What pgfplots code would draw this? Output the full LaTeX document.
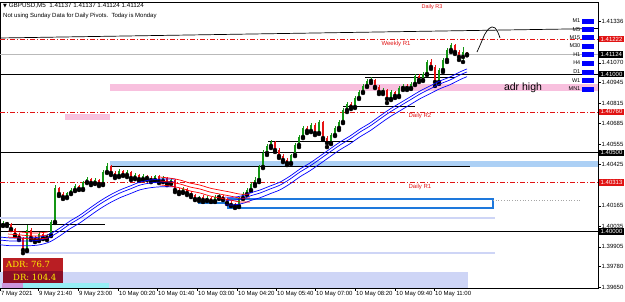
\documentclass[border=0pt]{standalone}
\usepackage{pgfplots}
\pgfplotsset{compat=1.18}
\usepackage{pgfplotstable}
\usepackage{fontspec}
\setmainfont{Liberation Sans}
\newfontfamily\dejavu{DejaVu Sans}
\newfontfamily\dvserif{DejaVu Serif}

\definecolor{mtgreen}{RGB}{20,150,20}
\definecolor{mtred}{RGB}{230,20,20}
\definecolor{ribblue}{RGB}{0,0,255}
\definecolor{ribred}{RGB}{255,0,0}
\definecolor{pivred}{RGB}{225,20,20}
\definecolor{pinkband}{RGB}{248,192,222}
\definecolor{blueband}{RGB}{172,208,245}
\definecolor{lav}{RGB}{206,213,246}
\definecolor{rectblue}{RGB}{30,120,220}
\definecolor{cyanbar}{RGB}{150,238,245}
\definecolor{purplebar}{RGB}{205,150,220}
\definecolor{adrtop}{RGB}{185,30,35}
\definecolor{adrbot}{RGB}{140,15,38}

\pgfplotstableread{
x o h l c
3 1.40043 1.40068 1.40037 1.40056
7 1.40056 1.40062 1.40037 1.40049
11 1.40049 1.40056 1.40011 1.40018
15 1.40018 1.40024 1.39973 1.39980
19 1.39980 1.39992 1.39948 1.39961
23 1.39961 1.39967 1.39865 1.39884
27 1.39884 1.40043 1.39878 1.40011
31 1.40011 1.40024 1.39948 1.39961
35 1.39961 1.39973 1.39935 1.39948
39 1.39948 1.39999 1.39942 1.39986
43 1.39986 1.39992 1.39954 1.39961
47 1.39961 1.39986 1.39948 1.39980
51 1.39980 1.40075 1.39973 1.40062
55 1.40062 1.40296 1.40056 1.40277
59 1.40277 1.40284 1.40227 1.40239
63 1.40239 1.40252 1.40208 1.40220
67 1.40220 1.40252 1.40214 1.40246
71 1.40246 1.40277 1.40239 1.40265
75 1.40265 1.40303 1.40258 1.40290
79 1.40290 1.40296 1.40265 1.40271
83 1.40271 1.40322 1.40265 1.40315
87 1.40315 1.40347 1.40309 1.40334
91 1.40334 1.40341 1.40296 1.40309
95 1.40309 1.40341 1.40303 1.40328
99 1.40328 1.40334 1.40290 1.40303
103 1.40303 1.40392 1.40296 1.40379
107 1.40379 1.40436 1.40373 1.40417
111 1.40417 1.40423 1.40360 1.40373
115 1.40373 1.40385 1.40341 1.40354
119 1.40354 1.40398 1.40347 1.40385
123 1.40385 1.40392 1.40354 1.40360
127 1.40360 1.40392 1.40347 1.40379
131 1.40379 1.40385 1.40328 1.40341
135 1.40341 1.40373 1.40334 1.40360
139 1.40360 1.40366 1.40322 1.40334
143 1.40334 1.40366 1.40328 1.40354
147 1.40354 1.40360 1.40328 1.40341
151 1.40341 1.40354 1.40315 1.40328
155 1.40328 1.40360 1.40322 1.40354
159 1.40354 1.40360 1.40309 1.40322
163 1.40322 1.40354 1.40315 1.40341
167 1.40341 1.40347 1.40296 1.40309
171 1.40309 1.40341 1.40303 1.40328
175 1.40328 1.40334 1.40252 1.40265
179 1.40265 1.40277 1.40239 1.40252
183 1.40252 1.40284 1.40246 1.40271
187 1.40271 1.40277 1.40233 1.40246
191 1.40246 1.40258 1.40220 1.40233
195 1.40233 1.40239 1.40201 1.40208
199 1.40208 1.40227 1.40195 1.40220
203 1.40220 1.40233 1.40189 1.40201
207 1.40201 1.40227 1.40195 1.40214
211 1.40214 1.40220 1.40189 1.40195
215 1.40195 1.40233 1.40189 1.40220
219 1.40220 1.40239 1.40208 1.40227
223 1.40227 1.40233 1.40201 1.40208
227 1.40208 1.40214 1.40176 1.40182
231 1.40182 1.40195 1.40163 1.40170
235 1.40170 1.40182 1.40151 1.40163
239 1.40163 1.40220 1.40157 1.40214
243 1.40214 1.40252 1.40208 1.40239
247 1.40239 1.40277 1.40233 1.40265
251 1.40265 1.40315 1.40258 1.40303
255 1.40303 1.40347 1.40290 1.40328
259 1.40328 1.40423 1.40315 1.40411
263 1.40411 1.40518 1.40404 1.40499
267 1.40499 1.40556 1.40487 1.40544
271 1.40544 1.40582 1.40531 1.40569
275 1.40569 1.40575 1.40506 1.40518
279 1.40518 1.40531 1.40468 1.40480
283 1.40480 1.40493 1.40442 1.40455
287 1.40455 1.40468 1.40423 1.40436
291 1.40436 1.40493 1.40430 1.40487
295 1.40487 1.40563 1.40480 1.40550
299 1.40550 1.40613 1.40537 1.40601
303 1.40601 1.40670 1.40594 1.40658
307 1.40658 1.40670 1.40626 1.40639
311 1.40639 1.40689 1.40632 1.40677
315 1.40677 1.40689 1.40613 1.40626
319 1.40626 1.40708 1.40620 1.40696
323 1.40696 1.40702 1.40582 1.40594
327 1.40594 1.40607 1.40537 1.40563
331 1.40563 1.40626 1.40556 1.40613
335 1.40613 1.40670 1.40607 1.40658
339 1.40658 1.40708 1.40645 1.40696
343 1.40696 1.40785 1.40689 1.40772
347 1.40772 1.40823 1.40759 1.40810
351 1.40810 1.40823 1.40778 1.40791
355 1.40791 1.40861 1.40785 1.40848
359 1.40848 1.40899 1.40842 1.40886
363 1.40886 1.40937 1.40880 1.40924
367 1.40924 1.40968 1.40918 1.40956
371 1.40956 1.40981 1.40943 1.40962
375 1.40962 1.40968 1.40911 1.40918
379 1.40918 1.40930 1.40873 1.40886
383 1.40886 1.40911 1.40873 1.40899
387 1.40899 1.40905 1.40816 1.40842
391 1.40842 1.40899 1.40835 1.40886
395 1.40886 1.40892 1.40848 1.40861
399 1.40861 1.40924 1.40854 1.40911
403 1.40911 1.40937 1.40899 1.40924
407 1.40924 1.40937 1.40899 1.40911
411 1.40911 1.40949 1.40905 1.40937
415 1.40937 1.41000 1.40930 1.40987
419 1.40987 1.41000 1.40949 1.40962
423 1.40962 1.41013 1.40956 1.41000
427 1.41000 1.41089 1.40994 1.41076
431 1.41076 1.41095 1.41032 1.41044
435 1.41044 1.41057 1.40924 1.40949
439 1.40949 1.41038 1.40937 1.41025
443 1.41025 1.41101 1.41013 1.41089
447 1.41089 1.41165 1.41076 1.41152
451 1.41152 1.41196 1.41139 1.41184
455 1.41184 1.41190 1.41127 1.41139
459 1.41139 1.41152 1.41089 1.41108
463 1.41108 1.41171 1.41076 1.41137
467 1.41137 1.41140 1.41118 1.41124
}\candles

\pgfplotstableread{
x m u d
0 1.39948 1.39967 1.39918
10 1.39942 1.39961 1.39912
20 1.39942 1.39961 1.39912
30 1.39942 1.39961 1.39912
40 1.39948 1.39967 1.39918
50 1.39967 1.39986 1.39937
60 1.40005 1.40024 1.39975
70 1.40049 1.40068 1.40019
80 1.40087 1.40106 1.40057
90 1.40132 1.40151 1.40102
100 1.40176 1.40195 1.40146
110 1.40214 1.40233 1.40184
120 1.40246 1.40265 1.40216
130 1.40271 1.40290 1.40241
140 1.40296 1.40315 1.40266
150 1.40309 1.40328 1.40279
160 1.40315 1.40334 1.40285
175 1.40315 1.40334 1.40285
}\blueA

\pgfplotstableread{
x m u d
225 1.40201 1.40220 1.40171
235 1.40201 1.40220 1.40171
245 1.40214 1.40233 1.40184
250 1.40227 1.40246 1.40197
260 1.40246 1.40265 1.40216
270 1.40271 1.40290 1.40241
280 1.40296 1.40315 1.40266
290 1.40334 1.40353 1.40304
300 1.40379 1.40398 1.40349
310 1.40417 1.40436 1.40387
320 1.40461 1.40480 1.40431
330 1.40506 1.40525 1.40476
340 1.40550 1.40569 1.40520
350 1.40588 1.40607 1.40558
360 1.40632 1.40651 1.40602
370 1.40670 1.40689 1.40640
380 1.40715 1.40734 1.40685
390 1.40759 1.40778 1.40729
400 1.40797 1.40816 1.40767
410 1.40835 1.40854 1.40805
420 1.40873 1.40892 1.40843
430 1.40905 1.40924 1.40875
440 1.40937 1.40956 1.40907
450 1.40962 1.40981 1.40932
460 1.40994 1.41013 1.40964
467 1.41013 1.41032 1.40983
}\blueB

\pgfplotstableread{
x m u d
160 1.40322 1.40347 1.40297
170 1.40315 1.40340 1.40290
180 1.40303 1.40328 1.40278
190 1.40284 1.40309 1.40259
200 1.40271 1.40296 1.40246
210 1.40252 1.40277 1.40227
220 1.40239 1.40264 1.40214
230 1.40227 1.40252 1.40202
240 1.40214 1.40239 1.40189
250 1.40214 1.40239 1.40189
}\redA

\pgfplotstableread{
x m u d
8 1.39986 1.40005 1.39967
20 1.39980 1.39999 1.39961
35 1.39973 1.39992 1.39954
48 1.39980 1.39999 1.39961
}\redB

\tikzset{pricebox/.style={anchor=west, xshift=1pt, inner xsep=1.5pt, inner ysep=1.2pt, text=white, font=\fontsize{6}{6}\selectfont}}
\pgfplotsset{ribbon/.style={line width=0.7pt, smooth}}

\begin{document}
\begin{tikzpicture}
\begin{axis}[
  at={(0pt,0pt)}, anchor=south west,
  scale only axis, width=598pt, height=286pt,
  xmin=0, xmax=598, ymin=1.39644, ymax=1.41456,
  clip mode=individual,
  axis line style={black, line width=0.6pt},
  tick align=outside, major tick length=2.5pt,
  tick style={black, line width=0.5pt},
  xtick pos=bottom, ytick pos=right, yticklabel pos=right,
  scaled y ticks=false, scaled x ticks=false,
  xtick={0,38,78,118,157,197,237,276,315,355,395,434},
  xticklabels={7 May 2021,9 May 21:40,9 May 23:00,10 May 00:20,10 May 01:40,10 May 03:00,10 May 04:20,10 May 05:40,10 May 07:00,10 May 08:20,10 May 09:40,10 May 11:00},
  ytick={1.39650,1.39780,1.39905,1.40035,1.40165,1.40425,1.40555,1.40685,1.40815,1.40945,1.41070,1.41336},
  yticklabels={1.39650,1.39780,1.39905,1.40035,1.40165,1.40425,1.40555,1.40685,1.40815,1.40945,1.41070,1.41336},
  ticklabel style={font=\fontsize{6}{7}\selectfont, text=black},
  xticklabel style={anchor=north west, inner xsep=1pt, inner ysep=1pt},
  yticklabel style={anchor=west, inner xsep=1pt},
]
% background objects
\addplot[draw=none, fill=lav] coordinates {(0,1.39644) (468,1.39644) (468,1.39745) (0,1.39745)} -- cycle;
\addplot[draw=none, fill=cyanbar] coordinates {(23,1.39644) (109,1.39644) (109,1.39676) (23,1.39676)} -- cycle;
\addplot[draw=none, fill=purplebar] coordinates {(2,1.39644) (23,1.39644) (23,1.39676) (2,1.39676)} -- cycle;
\addplot[draw=none, fill=pinkband] coordinates {(110,1.40892) (598,1.40892) (598,1.40937) (110,1.40937)} -- cycle;
\addplot[draw=none, fill=pinkband] coordinates {(65,1.40708) (110,1.40708) (110,1.40746) (65,1.40746)} -- cycle;
\addplot[draw=none, fill=blueband] coordinates {(110,1.40411) (598,1.40411) (598,1.40449) (110,1.40449)} -- cycle;
\addplot[lav, line width=2.5pt] coordinates {(0,1.40087) (495,1.40087)};
\addplot[lav, line width=1.3pt] coordinates {(25,1.39865) (495,1.39865)};
\addplot[rectblue, line width=1.2pt] coordinates {(228,1.40208) (493,1.40208) (493,1.40151) (228,1.40151)} -- cycle;
\addplot[rectblue, line width=1.5pt] coordinates {(198,1.40182) (228,1.40182)};
\addplot[gray!70, dotted, line width=0.7pt] coordinates {(493,1.40201) (580,1.40201)};
% pivots
\addplot[pivred, line width=0.6pt, dash pattern=on 5pt off 2pt on 1pt off 2pt] coordinates {(0,1.41222) (598,1.41222)};
\addplot[pivred, line width=0.6pt, dash pattern=on 5pt off 2pt on 1pt off 2pt] coordinates {(0,1.40760) (598,1.40760)};
\addplot[pivred, line width=0.6pt, dash pattern=on 5pt off 2pt on 1pt off 2pt] coordinates {(0,1.40313) (598,1.40313)};
% horizontal levels
\addplot[gray!55, line width=0.5pt] coordinates {(0,1.41124) (598,1.41124)};
\addplot[black, line width=0.9pt] coordinates {(0,1.41000) (598,1.41000)};
\addplot[black, line width=0.9pt] coordinates {(0,1.40500) (598,1.40500)};
\addplot[black, line width=0.9pt] coordinates {(0,1.40000) (598,1.40000)};
\addplot[black, line width=0.9pt] coordinates {(365,1.40975) (455,1.40975)};
\addplot[black, line width=0.9pt] coordinates {(343,1.40797) (415,1.40797)};
\addplot[black, line width=0.9pt] coordinates {(268,1.40575) (353,1.40575)};
\addplot[black, line width=0.9pt] coordinates {(110,1.40411) (470,1.40411)};
\addplot[black, line width=0.9pt] coordinates {(2,1.40049) (105,1.40049)};
\addplot[black, line width=0.7pt] coordinates {(0,1.41228) (598,1.41288)};
% candles
\addplot[only marks, mark=none, error bars/.cd, y dir=plus, y explicit, error mark=none,
  error bar style={mtgreen, line width=0.6pt}]
  table[x=x, y expr={\thisrow{c}>=\thisrow{o} ? \thisrow{l} : nan}, y error plus expr={\thisrow{h}-\thisrow{l}}] {\candles};
\addplot[only marks, mark=none, error bars/.cd, y dir=plus, y explicit, error mark=none,
  error bar style={mtgreen, line width=2.4pt}]
  table[x=x, y expr={\thisrow{c}>=\thisrow{o} ? \thisrow{o} : nan}, y error plus expr={\thisrow{c}-\thisrow{o}}] {\candles};
\addplot[only marks, mark=none, error bars/.cd, y dir=plus, y explicit, error mark=none,
  error bar style={mtred, line width=0.6pt}]
  table[x=x, y expr={\thisrow{c}<\thisrow{o} ? \thisrow{l} : nan}, y error plus expr={\thisrow{h}-\thisrow{l}}] {\candles};
\addplot[only marks, mark=none, error bars/.cd, y dir=plus, y explicit, error mark=none,
  error bar style={mtred, line width=2.4pt}]
  table[x=x, y expr={\thisrow{c}<\thisrow{o} ? \thisrow{c} : nan}, y error plus expr={\thisrow{o}-\thisrow{c}}] {\candles};
% ribbons
\addplot[ribblue, ribbon] table[x=x, y=u] {\blueA};
\addplot[ribblue, ribbon] table[x=x, y=m] {\blueA};
\addplot[ribblue, ribbon] table[x=x, y=d] {\blueA};
\addplot[ribblue, ribbon] table[x=x, y=u] {\blueB};
\addplot[ribblue, ribbon] table[x=x, y=m] {\blueB};
\addplot[ribblue, ribbon] table[x=x, y=d] {\blueB};
\addplot[ribred, ribbon] table[x=x, y=u] {\redA};
\addplot[ribred, ribbon] table[x=x, y=m] {\redA};
\addplot[ribred, ribbon] table[x=x, y=d] {\redA};
\addplot[ribred, ribbon] table[x=x, y=u] {\redB};
\addplot[ribred, ribbon] table[x=x, y=m] {\redB};
\addplot[ribred, ribbon] table[x=x, y=d] {\redB};
% hand drawing
\addplot[black, line width=0.7pt, smooth] coordinates {(477,1.41139) (481,1.41196) (485,1.41254) (489,1.41288) (492,1.41298) (495,1.41292) (498,1.41262) (500,1.41228)};
% labels
\node[text=pivred, font=\fontsize{6}{7}\selectfont] at (axis cs:396,1.41190) {Weekly R1};
\node[text=pivred, font=\fontsize{6}{7}\selectfont] at (axis cs:420,1.40731) {Daily R2};
\node[text=pivred, font=\fontsize{6}{7}\selectfont] at (axis cs:420,1.40284) {Daily R1};
\node[text=pivred, font=\fontsize{5.5}{6}\selectfont, inner sep=0pt] at (axis cs:432,1.41425) {Daily R3};
\node[font=\fontsize{10.5}{12}\selectfont] at (axis cs:523,1.40911) {adr high};
% price boxes
\node[pricebox, fill=pivred] at (axis cs:598,1.41222) {1.41222};
\node[pricebox, fill=pivred] at (axis cs:598,1.40760) {1.40760};
\node[pricebox, fill=pivred] at (axis cs:598,1.40313) {1.40313};
\node[pricebox, fill=black] at (axis cs:598,1.41124) {1.41124};
\node[pricebox, fill=black] at (axis cs:598,1.41000) {1.41000};
\node[pricebox, fill=black] at (axis cs:598,1.40500) {1.40500};
\node[pricebox, fill=black] at (axis cs:598,1.40000) {1.40000};
\end{axis}
% timeframe widget
\foreach \lab/\p in {M1/21,M5/29.5,M15/37.5,M30/46,H1/54.5,H4/63,D1/72,W1/80.5,MN1/89}{
  \node[anchor=east, font=\fontsize{5.5}{6}\selectfont, inner sep=0.5pt] at (581pt, {(288-\p)*1pt}) {\lab};
  \fill[ribblue] (582pt, {(288-\p-2.5)*1pt}) rectangle (594pt, {(288-\p+2.5)*1pt});
}
% title
\node[anchor=west, font=\fontsize{6.3}{7}\selectfont, inner sep=0pt] at (3pt,282pt) {{\dejavu\fontsize{5}{6}\selectfont ▼}\ GBPUSD,M5\ \ 1.41137 1.41137 1.41124 1.41124};
\node[anchor=west, font=\fontsize{6}{7}\selectfont, inner sep=0pt] at (3pt,272pt) {Not using Sunday Data for Daily Pivots.\ \ Today is Monday};
% ADR box
\fill[adrtop] (3pt,17pt) rectangle (63pt,30pt);
\fill[adrbot] (3pt,5pt) rectangle (63pt,17pt);
\node[text=yellow, font=\dvserif\fontsize{8.5}{9}\selectfont, anchor=west, inner sep=0pt] at (6pt,23.5pt) {ADR: 76.7};
\node[text=yellow, font=\dvserif\fontsize{8.5}{9}\selectfont, anchor=west, inner sep=0pt] at (13pt,11pt) {DR: 104.4};
\pgfresetboundingbox
\path[use as bounding box] (0pt,-13pt) rectangle (625pt,288pt);
\end{tikzpicture}
\end{document}
